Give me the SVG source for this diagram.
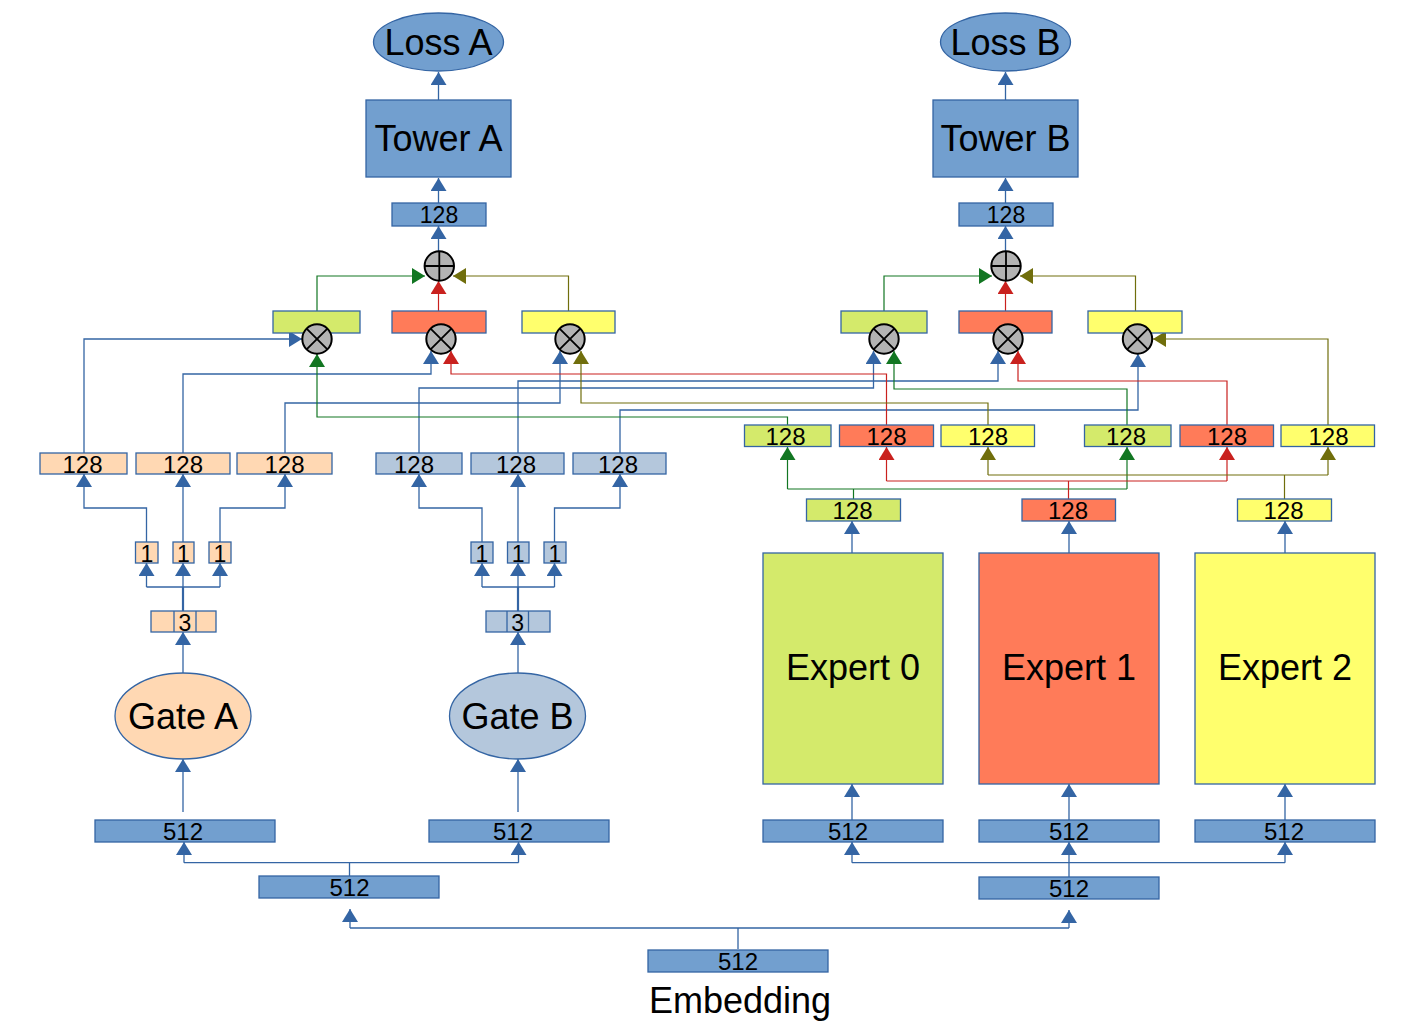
<svg xmlns="http://www.w3.org/2000/svg" width="1404" height="1027" viewBox="0 0 1404 1027">
<style>
.bx{stroke:#3465a4;stroke-width:1.3}
.blue{fill:#729fcf}.org{fill:#ffd8b3}.bg{fill:#b4c7dc}.grn{fill:#d4ea6b}.red{fill:#ff7b59}.yel{fill:#ffff6d}
.t{font-family:"Liberation Sans",Arial,sans-serif;text-anchor:middle;fill:#000}
.s23{font-size:24px}.s22{font-size:23px}.s21{font-size:23px}.s35{font-size:36px}.s36{font-size:36px}
.cB{fill:none;stroke:#3465a4;stroke-width:1.3}
.cG{fill:none;stroke:#127622;stroke-width:1.2}
.cR{fill:none;stroke:#c9211e;stroke-width:1.2}
.cO{fill:none;stroke:#706e0c;stroke-width:1.2}
.thick{stroke-width:2.2}
</style>
<defs>
<marker id="aB" markerUnits="userSpaceOnUse" markerWidth="13" markerHeight="16" viewBox="0 0 13 16" refX="13" refY="8" orient="auto"><path d="M0,0L13,8L0,16z" fill="#3465a4"/></marker>
<marker id="aG" markerUnits="userSpaceOnUse" markerWidth="13" markerHeight="16" viewBox="0 0 13 16" refX="13" refY="8" orient="auto"><path d="M0,0L13,8L0,16z" fill="#127622"/></marker>
<marker id="aR" markerUnits="userSpaceOnUse" markerWidth="13" markerHeight="16" viewBox="0 0 13 16" refX="13" refY="8" orient="auto"><path d="M0,0L13,8L0,16z" fill="#c9211e"/></marker>
<marker id="aO" markerUnits="userSpaceOnUse" markerWidth="13" markerHeight="16" viewBox="0 0 13 16" refX="13" refY="8" orient="auto"><path d="M0,0L13,8L0,16z" fill="#706e0c"/></marker>
<g id="mul"><circle r="14.7" fill="#b3b3b3" stroke="#000" stroke-width="2"/><path d="M-10.4,-10.4L10.4,10.4M-10.4,10.4L10.4,-10.4" stroke="#000" stroke-width="1.8"/></g>
<g id="add"><circle r="14.7" fill="#b3b3b3" stroke="#000" stroke-width="2"/><path d="M0,-14.7V14.7M-14.7,0H14.7" stroke="#000" stroke-width="1.8"/></g>
</defs>
<rect width="1404" height="1027" fill="#fff"/>

<g id="connectors">
<path class="cB" d="M438.5,100V72" marker-end="url(#aB)"/>
<path class="cB" d="M438.5,203V178" marker-end="url(#aB)"/>
<path class="cB" d="M438.5,251V226" marker-end="url(#aB)"/>
<path class="cG" d="M317,311V276H425" marker-end="url(#aG)"/>
<path class="cR" d="M438.5,311V281" marker-end="url(#aR)"/>
<path class="cO" d="M568.5,311V276H453" marker-end="url(#aO)"/>
<path class="cB" d="M1005.5,100V72" marker-end="url(#aB)"/>
<path class="cB" d="M1005.5,203V178" marker-end="url(#aB)"/>
<path class="cB" d="M1005.5,251V226" marker-end="url(#aB)"/>
<path class="cG" d="M884,311V276H992" marker-end="url(#aG)"/>
<path class="cR" d="M1005.5,311V281" marker-end="url(#aR)"/>
<path class="cO" d="M1135.5,311V276H1020" marker-end="url(#aO)"/>
<path class="cB" d="M84,453V339H302" marker-end="url(#aB)"/>
<path class="cB" d="M183,453V374H431V351" marker-end="url(#aB)"/>
<path class="cB" d="M285,453V403H560V351" marker-end="url(#aB)"/>
<path class="cB" d="M419,453V388H873.5V351" marker-end="url(#aB)"/>
<path class="cB" d="M518,453V381H998V351" marker-end="url(#aB)"/>
<path class="cB" d="M620,453V410H1138V354" marker-end="url(#aB)"/>
<path class="cG" d="M787.5,425V417H317V354" marker-end="url(#aG)"/>
<path class="cR" d="M886.5,425V374H451V351" marker-end="url(#aR)"/>
<path class="cO" d="M988,425V403H581V351" marker-end="url(#aO)"/>
<path class="cG" d="M1127,425V389H894V351" marker-end="url(#aG)"/>
<path class="cR" d="M1227,425V381H1018V351" marker-end="url(#aR)"/>
<path class="cO" d="M1328,425V339H1153" marker-end="url(#aO)"/>
<path class="cB" d="M146.5,542V508H84V474" marker-end="url(#aB)"/>
<path class="cB" d="M183,542V474" marker-end="url(#aB)"/>
<path class="cB" d="M220,542V508H285V474" marker-end="url(#aB)"/>
<path class="cB thick" d="M183,611V587"/>
<path class="cB" d="M146.5,587H220"/>
<path class="cB" d="M146.5,587V563" marker-end="url(#aB)"/>
<path class="cB" d="M183,587V563" marker-end="url(#aB)"/>
<path class="cB" d="M220,587V563" marker-end="url(#aB)"/>
<path class="cB" d="M183,673V632" marker-end="url(#aB)"/>
<path class="cB" d="M183,812V759" marker-end="url(#aB)"/>
<path class="cB" d="M482,542V508H419V474" marker-end="url(#aB)"/>
<path class="cB" d="M518,542V474" marker-end="url(#aB)"/>
<path class="cB" d="M554.5,542V508H620V474" marker-end="url(#aB)"/>
<path class="cB thick" d="M518,611V587"/>
<path class="cB" d="M482,587H554.5"/>
<path class="cB" d="M482,587V563" marker-end="url(#aB)"/>
<path class="cB" d="M518,587V563" marker-end="url(#aB)"/>
<path class="cB" d="M554.5,587V563" marker-end="url(#aB)"/>
<path class="cB" d="M518,673V632" marker-end="url(#aB)"/>
<path class="cB" d="M518,812V759" marker-end="url(#aB)"/>
<path class="cB" d="M852,553V521" marker-end="url(#aB)"/>
<path class="cB" d="M1069,553V521" marker-end="url(#aB)"/>
<path class="cB" d="M1285,553V521" marker-end="url(#aB)"/>
<path class="cB" d="M852,820V784" marker-end="url(#aB)"/>
<path class="cB" d="M1069,820V784" marker-end="url(#aB)"/>
<path class="cB" d="M1285,820V784" marker-end="url(#aB)"/>
<path class="cG" d="M853.5,499V489M787.5,489H1127"/>
<path class="cG" d="M787.5,489V447" marker-end="url(#aG)"/>
<path class="cG" d="M1127,489V447" marker-end="url(#aG)"/>
<path class="cR" d="M1068.5,499V481M886.5,481H1227"/>
<path class="cR" d="M886.5,481V447" marker-end="url(#aR)"/>
<path class="cR" d="M1227,481V447" marker-end="url(#aR)"/>
<path class="cO" d="M1284.5,499V475M988,475H1328"/>
<path class="cO" d="M988,475V447" marker-end="url(#aO)"/>
<path class="cO" d="M1328,475V447" marker-end="url(#aO)"/>
<path class="cB" d="M349.5,876V862.7M184,862.7H518.5"/>
<path class="cB" d="M184,862.7V842" marker-end="url(#aB)"/>
<path class="cB" d="M518.5,862.7V842" marker-end="url(#aB)"/>
<path class="cB" d="M1069,877V862.7M852,862.7H1285"/>
<path class="cB" d="M852,862.7V842" marker-end="url(#aB)"/>
<path class="cB" d="M1069,862.7V842" marker-end="url(#aB)"/>
<path class="cB" d="M1285,862.7V842" marker-end="url(#aB)"/>
<path class="cB" d="M738,949V928M350,928H1069"/>
<path class="cB" d="M350,928V909" marker-end="url(#aB)"/>
<path class="cB" d="M1069,928V910" marker-end="url(#aB)"/>
</g>

<g id="lossA"><ellipse class="bx blue" cx="438.5" cy="42" rx="65" ry="29"/><text class="t s35" x="438.5" y="55">Loss A</text></g>
<g id="towerA"><rect class="bx blue" x="366" y="100" width="145" height="77"/><text class="t s35" x="438.5" y="151">Tower A</text></g>
<g id="hA"><rect class="bx blue" x="392" y="203" width="94" height="23"/><text class="t s22" x="439" y="223">128</text></g>
<g id="sumA"><use href="#add" x="439.3" y="266"/></g>
<g id="boxAg"><rect class="bx grn" x="273" y="311" width="87" height="22"/></g>
<g id="boxAr"><rect class="bx red" x="392" y="311" width="94" height="22"/></g>
<g id="boxAy"><rect class="bx yel" x="522" y="311" width="93" height="22"/></g>
<g id="mulAg"><use href="#mul" x="317" y="339"/></g>
<g id="mulAr"><use href="#mul" x="441" y="339"/></g>
<g id="mulAy"><use href="#mul" x="570" y="339"/></g>

<g id="lossB"><ellipse class="bx blue" cx="1005.5" cy="42" rx="65" ry="29"/><text class="t s35" x="1005.5" y="55">Loss B</text></g>
<g id="towerB"><rect class="bx blue" x="933" y="100" width="145" height="77"/><text class="t s35" x="1005.5" y="151">Tower B</text></g>
<g id="hB"><rect class="bx blue" x="959" y="203" width="94" height="23"/><text class="t s22" x="1006" y="223">128</text></g>
<g id="sumB"><use href="#add" x="1006" y="266"/></g>
<g id="boxBg"><rect class="bx grn" x="841" y="311" width="86" height="22"/></g>
<g id="boxBr"><rect class="bx red" x="959" y="311" width="93" height="22"/></g>
<g id="boxBy"><rect class="bx yel" x="1088" y="311" width="94" height="22"/></g>
<g id="mulBg"><use href="#mul" x="884" y="339"/></g>
<g id="mulBr"><use href="#mul" x="1008" y="339"/></g>
<g id="mulBy"><use href="#mul" x="1137.5" y="339"/></g>

<g id="wA0"><rect class="bx org" x="40" y="453" width="87" height="21"/><text class="t s23" x="82.5" y="473">128</text></g>
<g id="wA1"><rect class="bx org" x="136" y="453" width="94" height="21"/><text class="t s23" x="183" y="473">128</text></g>
<g id="wA2"><rect class="bx org" x="237" y="453" width="95" height="21"/><text class="t s23" x="284.5" y="473">128</text></g>
<g id="wB0"><rect class="bx bg" x="376" y="453" width="86" height="21"/><text class="t s23" x="414" y="473">128</text></g>
<g id="wB1"><rect class="bx bg" x="471" y="453" width="93" height="21"/><text class="t s23" x="516" y="473">128</text></g>
<g id="wB2"><rect class="bx bg" x="573" y="453" width="93" height="21"/><text class="t s23" x="618" y="473">128</text></g>

<g id="gA1a"><rect class="bx org" x="135.5" y="542" width="22.5" height="21"/><text class="t s21" x="146.8" y="562">1</text></g>
<g id="gA1b"><rect class="bx org" x="173" y="542" width="21" height="21"/><text class="t s21" x="183.5" y="562">1</text></g>
<g id="gA1c"><rect class="bx org" x="209" y="542" width="22" height="21"/><text class="t s21" x="220" y="562">1</text></g>
<g id="gA3"><rect class="bx org" x="151" y="611" width="65" height="21"/><path class="cB" d="M174,611V632M196,611V632"/><text class="t s22" x="185" y="631">3</text></g>
<g id="gateA"><ellipse class="bx org" cx="183" cy="716" rx="68" ry="43"/><text class="t s36" x="183" y="729">Gate A</text></g>

<g id="gB1a"><rect class="bx bg" x="471" y="542" width="22" height="21"/><text class="t s21" x="482" y="562">1</text></g>
<g id="gB1b"><rect class="bx bg" x="507.5" y="542" width="21.5" height="21"/><text class="t s21" x="518.2" y="562">1</text></g>
<g id="gB1c"><rect class="bx bg" x="544" y="542" width="22" height="21"/><text class="t s21" x="555" y="562">1</text></g>
<g id="gB3"><rect class="bx bg" x="486" y="611" width="64" height="21"/><path class="cB" d="M507,611V632M528.5,611V632"/><text class="t s22" x="517.7" y="631">3</text></g>
<g id="gateB"><ellipse class="bx bg" cx="517.5" cy="716" rx="68" ry="43"/><text class="t s36" x="517.5" y="729">Gate B</text></g>

<g id="e0g1"><rect class="bx grn" x="744.5" y="425" width="86.5" height="21.5"/><text class="t s23" x="785.5" y="445">128</text></g>
<g id="e1r1"><rect class="bx red" x="839.5" y="425" width="94" height="21.5"/><text class="t s23" x="886.5" y="445">128</text></g>
<g id="e2y1"><rect class="bx yel" x="941" y="425" width="93.5" height="21.5"/><text class="t s23" x="988" y="445">128</text></g>
<g id="e0g2"><rect class="bx grn" x="1084.5" y="425" width="86.5" height="21.5"/><text class="t s23" x="1126" y="445">128</text></g>
<g id="e1r2"><rect class="bx red" x="1180" y="425" width="93.5" height="21.5"/><text class="t s23" x="1227" y="445">128</text></g>
<g id="e2y2"><rect class="bx yel" x="1281" y="425" width="93.5" height="21.5"/><text class="t s23" x="1328.5" y="445">128</text></g>

<g id="e0o"><rect class="bx grn" x="806.5" y="499" width="94" height="22"/><text class="t s23" x="852.5" y="519">128</text></g>
<g id="e1o"><rect class="bx red" x="1022" y="499" width="93.5" height="22"/><text class="t s23" x="1068" y="519">128</text></g>
<g id="e2o"><rect class="bx yel" x="1237.5" y="499" width="94" height="22"/><text class="t s23" x="1283.5" y="519">128</text></g>

<g id="expert0"><rect class="bx grn" x="763" y="553" width="180" height="231"/><text class="t s36" x="853" y="680">Expert 0</text></g>
<g id="expert1"><rect class="bx red" x="979" y="553" width="180" height="231"/><text class="t s36" x="1069" y="680">Expert 1</text></g>
<g id="expert2"><rect class="bx yel" x="1195" y="553" width="180" height="231"/><text class="t s36" x="1285" y="680">Expert 2</text></g>

<g id="inGA"><rect class="bx blue" x="95" y="820" width="180" height="22"/><text class="t s23" x="183" y="840">512</text></g>
<g id="inGB"><rect class="bx blue" x="429" y="820" width="180" height="22"/><text class="t s23" x="513" y="840">512</text></g>
<g id="inE0"><rect class="bx blue" x="763" y="820" width="180" height="22"/><text class="t s23" x="848" y="840">512</text></g>
<g id="inE1"><rect class="bx blue" x="979" y="820" width="180" height="22"/><text class="t s23" x="1069" y="840">512</text></g>
<g id="inE2"><rect class="bx blue" x="1195" y="820" width="180" height="22"/><text class="t s23" x="1284" y="840">512</text></g>
<g id="sharedG"><rect class="bx blue" x="259" y="876" width="180" height="22"/><text class="t s23" x="349.5" y="896">512</text></g>
<g id="sharedE"><rect class="bx blue" x="979" y="877" width="180" height="22"/><text class="t s23" x="1069" y="897">512</text></g>
<g id="embedding"><rect class="bx blue" x="648" y="950" width="180" height="22"/><text class="t s23" x="738" y="970">512</text><text class="t s36" x="740" y="1013">Embedding</text></g>
</svg>
